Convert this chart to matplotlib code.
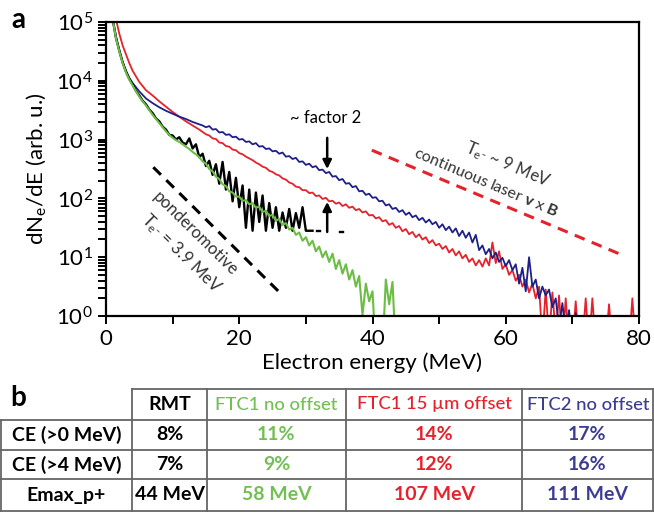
import numpy as np
import matplotlib.pyplot as plt
from matplotlib.ticker import LogLocator, MultipleLocator, NullFormatter

plt.rcParams['font.family'] = ['Lato', 'DejaVu Sans']
plt.rcParams['mathtext.fontset'] = 'custom'
plt.rcParams['mathtext.rm'] = 'Lato'
plt.rcParams['mathtext.it'] = 'Lato:italic'
plt.rcParams['mathtext.bf'] = 'Lato:bold'

BLUE = "#1e2088"
RED = "#e5222b"
GREEN = "#6cbd45"
TABLE_GREEN = "#72c052"
TABLE_BLUE = "#3c3c92"

# electron spectra, log10(dN/dE); smooth head at listed energies, tail sampled every 0.5 MeV
BLUE_HEAD_E = [1.0, 1.5, 2, 2.5, 3, 3.5, 4, 5, 6, 7, 8, 9, 10, 11, 12, 13, 14]
BLUE_HEAD = [5.05, 4.75, 4.52, 4.32, 4.16, 4.05, 3.96, 3.82, 3.70, 3.62, 3.55, 3.49, 3.44, 3.39, 3.35, 3.30, 3.26]
BLUE_TAIL_START = 14.5
BLUE_TAIL = [
    3.24,
    3.21, 3.23, 3.17, 3.18, 3.12, 3.13, 3.08, 3.09, 3.04, 3.05,
    3.00, 3.01, 2.96, 2.97, 2.92, 2.94, 2.88, 2.89, 2.84, 2.85,
    2.80, 2.81, 2.76, 2.78, 2.71, 2.72, 2.67, 2.69, 2.62, 2.63,
    2.57, 2.59, 2.53, 2.55, 2.48, 2.49, 2.43, 2.45, 2.37, 2.38,
    2.31, 2.33, 2.25, 2.26, 2.19, 2.21, 2.12, 2.13, 2.06, 2.08,
    2.01, 2.02, 1.95, 1.96, 1.88, 1.90, 1.82, 1.84, 1.77, 1.80,
    1.72, 1.76, 1.68, 1.71, 1.63, 1.67, 1.59, 1.64, 1.56, 1.60,
    1.50, 1.56, 1.46, 1.52, 1.42, 1.49, 1.36, 1.45, 1.33, 1.42,
    1.25, 1.38, 1.12, 1.20, 1.05, 1.14, 0.98, 1.08, 0.92, 0.99,
    0.85, 0.95, 0.78, 0.88, 0.55, 0.82, 0.42, 1.00, 0.50, 0.62,
    0.30, 0.50, 0.35, 0.45, 0.15, 0.30, -0.20, 0.22, -0.30, 0.10,
    -0.40, 0.05, -0.50,
]

RED_HEAD_E = [1.5, 2, 2.5, 3, 3.5, 4, 5, 6, 7, 8, 9, 10, 11, 12, 13, 14]
RED_HEAD = [5.05, 4.80, 4.60, 4.45, 4.30, 4.17, 3.98, 3.84, 3.75, 3.65, 3.56, 3.47, 3.39, 3.31, 3.24, 3.17]
RED_TAIL_START = 14.5
RED_TAIL = [
    3.13,
    3.09, 3.07, 3.02, 3.01, 2.95, 2.94, 2.89, 2.88, 2.83, 2.82,
    2.77, 2.75, 2.71, 2.68, 2.65, 2.61, 2.58, 2.54, 2.52, 2.47,
    2.45, 2.41, 2.39, 2.34, 2.32, 2.27, 2.25, 2.20, 2.19, 2.14,
    2.14, 2.09, 2.10, 2.04, 2.05, 1.99, 2.01, 1.95, 1.96, 1.91,
    1.93, 1.87, 1.90, 1.84, 1.86, 1.80, 1.82, 1.76, 1.78, 1.71,
    1.72, 1.66, 1.68, 1.61, 1.63, 1.55, 1.58, 1.50, 1.53, 1.44,
    1.48, 1.39, 1.43, 1.34, 1.39, 1.30, 1.34, 1.24, 1.29, 1.20,
    1.23, 1.14, 1.19, 1.08, 1.14, 1.03, 1.10, 0.98, 1.04, 0.92,
    0.98, 0.86, 0.95, 0.84, 0.98, 0.86, 1.25, 0.90, 1.10, 0.80,
    0.88, 0.70, 0.78, 0.60, 0.70, 0.50, 0.62, 0.40, 0.55, 0.30,
    0.50, -0.40, 0.45, -0.40, 0.40, -0.30, 0.35, -0.50, 0.30, -0.50,
    -0.50, 0.25, -0.50, -0.50, 0.30, -0.50, 0.30, -0.50, -0.50, -0.50,
    -0.50, 0.20, -0.50, -0.50, -0.50, -0.50, -0.50, -0.50, 0.30, -0.50,
    -0.50,
]

GREEN_HEAD_E = [1.0, 1.5, 2, 2.5, 3, 3.5, 4, 4.5, 5, 5.5, 6, 6.5, 7, 7.5, 8, 8.5, 9, 9.5, 10, 10.5, 11, 11.5]
GREEN_HEAD = [5.05, 4.72, 4.50, 4.30, 4.14, 4.02, 3.92, 3.82, 3.73, 3.65, 3.58, 3.50, 3.42, 3.35, 3.28, 3.21,
              3.14, 3.08, 3.03, 2.99, 2.96, 2.92]
GREEN_TAIL_START = 12.0
GREEN_TAIL = [
    2.88, 2.84, 2.79, 2.75, 2.70, 2.63, 2.59, 2.50, 2.46, 2.37,
    2.33, 2.24, 2.21, 2.12, 2.10, 2.03, 2.03, 1.96, 1.97, 1.90,
    1.92, 1.84, 1.86, 1.77, 1.79, 1.70, 1.72, 1.62, 1.65, 1.55,
    1.58, 1.47, 1.50, 1.38, 1.42, 1.28, 1.34, 1.20, 1.28, 1.10,
    1.18, 1.00, 1.10, 0.92, 1.06, 0.80, 0.95, 0.72, 0.88, 0.62,
    0.78, 0.50, 0.68, 0.02, 0.55, 0.25, 0.42, -0.60, -0.60, -0.60,
    0.62, 0.20, 0.58, -0.60,
]

BLACK_HEAD_E = GREEN_HEAD_E
BLACK_HEAD = [5.05, 4.73, 4.51, 4.31, 4.16, 4.03, 3.94, 3.83, 3.75, 3.66, 3.60, 3.51, 3.45, 3.36, 3.31, 3.22,
              3.17, 3.08, 3.07, 3.0, 3.04, 2.95]
BLACK_TAIL_START = 12.0
BLACK_TAIL = [
    2.92, 3.02, 2.85, 2.92, 2.70, 2.76, 2.55, 2.64, 2.40, 2.58,
    2.25, 2.62, 2.15, 2.45, 1.95, 2.35, 1.85, 2.22, 1.50, 2.15,
    1.45, 2.10, 1.60, 2.05, 1.45, 1.92, 1.50, 1.85, 1.45, 1.76,
    1.50, 1.82, 1.45, 1.75, 1.50, 1.85, 1.45, 1.45, 1.45,
]
BLACK_BITS_E = [np.nan, 31.6, 32.1, np.nan, 35.1, 35.6]
BLACK_BITS = [np.nan, 1.45, 1.45, np.nan, 1.43, 1.43]

# guide lines (energy, log10) and arrows
PONDER_E = [7.1, 26.6]
PONDER_LOG = [2.53, 0.34]
VXB_E = [39.9, 77.2]
VXB_LOG = [2.82, 1.05]
ARROW_E = 33.2
ARROW_DOWN = [3.03, 2.50]
ARROW_UP = [1.43, 1.94]

TABLE_HEADER = ["RMT", "FTC1 no offset", "FTC1 15 µm offset", "FTC2 no offset"]
TABLE_ROWS = ["CE (>0 MeV)", "CE (>4 MeV)", "Emax_p+"]
TABLE_VALUES = [
    ["8%", "11%", "14%", "17%"],
    ["7%", "9%", "12%", "16%"],
    ["44 MeV", "58 MeV", "107 MeV", "111 MeV"],
]
TABLE_COLORS = ["black", TABLE_GREEN, RED, TABLE_BLUE]


def spectrum(head_e, head_log, tail_start, tail_log):
    tail_e = tail_start + 0.5 * np.arange(len(tail_log))
    energy = np.concatenate([head_e, tail_e])
    return energy, 10.0 ** np.concatenate([head_log, tail_log])


fig = plt.figure(figsize=(6.54, 5.25), dpi=100)
ax = fig.add_axes([106 / 654, 1 - 316 / 525, 533 / 654, 294 / 525])

e, n = spectrum(RED_HEAD_E, RED_HEAD, RED_TAIL_START, RED_TAIL)
ax.plot(e, n, color=RED, lw=1.3)
e, n = spectrum(BLUE_HEAD_E, BLUE_HEAD, BLUE_TAIL_START, BLUE_TAIL)
ax.plot(e, n, color=BLUE, lw=1.3)
e, n = spectrum(BLACK_HEAD_E, BLACK_HEAD, BLACK_TAIL_START, BLACK_TAIL)
ax.plot(e, n, color="black", lw=1.7)
ax.plot(BLACK_BITS_E, 10.0 ** np.array(BLACK_BITS), color="black", lw=1.7)
e, n = spectrum(GREEN_HEAD_E, GREEN_HEAD, GREEN_TAIL_START, GREEN_TAIL)
ax.plot(e, n, color=GREEN, lw=1.5)

ax.plot(PONDER_E, 10.0 ** np.array(PONDER_LOG), color="black", lw=2.2, ls=(0, (3.5, 2.5)))
ax.plot(VXB_E, 10.0 ** np.array(VXB_LOG), color=RED, lw=2.2, ls=(0, (3.5, 2.5)))

arrow = dict(arrowstyle="-|>", color="black", lw=1.8, mutation_scale=13, shrinkA=0, shrinkB=0)
ax.annotate("", xy=(ARROW_E, 10 ** ARROW_DOWN[1]), xytext=(ARROW_E, 10 ** ARROW_DOWN[0]), arrowprops=arrow)
ax.annotate("", xy=(ARROW_E, 10 ** ARROW_UP[1]), xytext=(ARROW_E, 10 ** ARROW_UP[0]), arrowprops=arrow)

ax.text(32.9, 10 ** 3.37, "~ factor 2", fontsize=12, ha="center", va="center")
ax.text(13.4, 10 ** 1.40, "ponderomotive", fontsize=12, color="#333333", rotation=-44.5,
        ha="center", va="center", rotation_mode="anchor")
ax.text(11.3, 10 ** 1.06, r"$\mathregular{T_{e^{-}}}$ = 3.9 MeV", fontsize=12, color="#333333",
        rotation=-44.5, ha="center", va="center", rotation_mode="anchor")
ax.text(60.3, 10 ** 2.57, r"$\mathregular{T_{e^{-}}}$ ~ 9 MeV", fontsize=12, color="#333333", rotation=-23,
        ha="center", va="center", rotation_mode="anchor")
ax.text(57.0, 10 ** 2.28, r"continuous laser $\mathbf{v}$ x $\mathbf{B}$", fontsize=11.5, color="#333333",
        rotation=-23, ha="center", va="center", rotation_mode="anchor")

ax.set_yscale("log")
ax.set_xlim(0, 80)
ax.set_ylim(1, 1e5)
ax.xaxis.set_major_locator(MultipleLocator(20))
ax.xaxis.set_minor_locator(MultipleLocator(10))
ax.yaxis.set_major_locator(LogLocator(base=10, numticks=10))
ax.yaxis.set_minor_locator(LogLocator(base=10, subs=np.arange(2, 10), numticks=10))
ax.yaxis.set_minor_formatter(NullFormatter())
ax.tick_params(which="both", direction="out", length=6, width=1.4, labelsize=16)
for spine in ax.spines.values():
    spine.set_linewidth(1.6)
ax.set_xlabel("Electron energy (MeV)", fontsize=16, labelpad=2)
ax.set_ylabel(r"dN$\mathregular{_e}$/dE (arb. u.)", fontsize=16, labelpad=6)

fig.text(18 / 654, 1 - 20 / 525, "a", fontsize=20, fontweight="bold", ha="center", va="center")
fig.text(18 / 654, 1 - 398 / 525, "b", fontsize=20, fontweight="bold", ha="center", va="center")

# table b drawn on a pixel overlay
tab = fig.add_axes([0, 0, 1, 1], facecolor="none")
tab.set_xlim(0, 654)
tab.set_ylim(525, 0)
tab.axis("off")
col_edges = [1, 132, 207, 346, 522, 653]
row_edges = [389, 420, 450, 479, 511]
grid = dict(color="#666666", lw=1.3)
tab.plot([col_edges[1], col_edges[-1]], [row_edges[0]] * 2, **grid)
for y in row_edges[1:]:
    tab.plot([col_edges[0], col_edges[-1]], [y, y], **grid)
for i, x in enumerate(col_edges):
    top = row_edges[1] if i == 0 else row_edges[0]
    tab.plot([x, x], [top, row_edges[-1]], **grid)

centers = [(col_edges[i] + col_edges[i + 1]) / 2 for i in range(len(col_edges) - 1)]
mids = [(row_edges[i] + row_edges[i + 1]) / 2 for i in range(len(row_edges) - 1)]
fs = 14
for j, label in enumerate(TABLE_HEADER):
    tab.text(centers[j + 1] + (1 if j == 3 else 0), mids[0], label, color=TABLE_COLORS[j],
             fontsize=fs if j == 0 else 13.3, fontweight="bold" if j == 0 else "medium",
             ha="center", va="center")
for i, row in enumerate(TABLE_ROWS):
    tab.text(centers[0], mids[i + 1], row, fontsize=fs, fontweight="bold", ha="center", va="center")
    for j, val in enumerate(TABLE_VALUES[i]):
        tab.text(centers[j + 1], mids[i + 1], val, color=TABLE_COLORS[j], fontsize=fs,
                 fontweight="bold", ha="center", va="center")

fig.savefig("out.png", dpi=100)
